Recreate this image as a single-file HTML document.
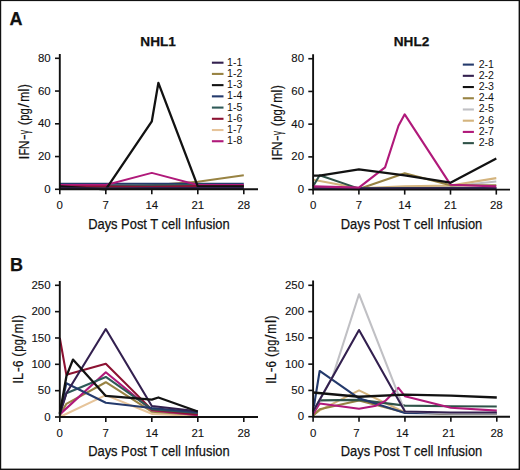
<!DOCTYPE html><html><head><meta charset="utf-8"><style>html,body{margin:0;padding:0;background:#fff;width:520px;height:470px;overflow:hidden}svg{display:block}text{font-family:"Liberation Sans", sans-serif;fill:#111;stroke:#111;stroke-width:0.25px}.tk{font-size:10.4px;stroke-width:0.1px}.lg{font-size:10.2px;stroke-width:0}.ttl{font-size:13.6px;font-weight:bold}.pl{font-size:18px;font-weight:bold}.ax{font-size:15.2px}.yt{font-size:14.2px;stroke-width:0.2px}</style></head><body>
<svg width="520" height="470" viewBox="0 0 520 470">
<rect x="0" y="0" width="520" height="470" fill="#fff"/>
<polyline points="59.80,187.66 105.80,187.66 151.80,186.84 197.80,186.84 243.80,186.84" fill="none" stroke="#e6c49a" stroke-width="2.1" stroke-linejoin="round"/>
<polyline points="59.80,187.66 105.80,187.66 151.80,185.21 197.80,181.77 243.80,175.22" fill="none" stroke="#988343" stroke-width="2.1" stroke-linejoin="round"/>
<polyline points="59.80,183.73 105.80,183.73 151.80,183.73 197.80,183.73 243.80,183.73" fill="none" stroke="#243a6c" stroke-width="2.1" stroke-linejoin="round"/>
<polyline points="59.80,186.68 105.80,185.53 151.80,185.53 197.80,184.72 243.80,185.53" fill="none" stroke="#2f5a58" stroke-width="2.1" stroke-linejoin="round"/>
<polyline points="59.80,185.04 105.80,185.04 151.80,172.93 197.80,185.04 243.80,185.04" fill="none" stroke="#b0197a" stroke-width="1.9" stroke-linejoin="round"/>
<polyline points="59.80,186.52 105.80,186.52 151.80,186.84 197.80,186.03 243.80,186.03" fill="none" stroke="#8c1232" stroke-width="2.1" stroke-linejoin="round"/>
<polyline points="59.80,186.35 105.80,189.30 151.80,121.34 158.37,82.86 197.80,186.35 243.80,186.35" fill="none" stroke="#121212" stroke-width="2.3" stroke-linejoin="round"/>
<polyline points="59.80,188.48 105.80,188.48 151.80,188.32 197.80,188.15 243.80,188.15" fill="none" stroke="#33204f" stroke-width="2.4" stroke-linejoin="round"/>
<path d="M59.80 54.00 V189.30 H258.00" fill="none" stroke="#111" stroke-width="1.9"/>
<line x1="55.00" y1="189.30" x2="59.80" y2="189.30" stroke="#111" stroke-width="1.6"/>
<text x="50.70" y="192.90" text-anchor="end" class="tk" textLength="6.36" lengthAdjust="spacingAndGlyphs">0</text>
<line x1="55.00" y1="156.55" x2="59.80" y2="156.55" stroke="#111" stroke-width="1.6"/>
<text x="50.70" y="160.15" text-anchor="end" class="tk" textLength="12.72" lengthAdjust="spacingAndGlyphs">20</text>
<line x1="55.00" y1="123.80" x2="59.80" y2="123.80" stroke="#111" stroke-width="1.6"/>
<text x="50.70" y="127.40" text-anchor="end" class="tk" textLength="12.72" lengthAdjust="spacingAndGlyphs">40</text>
<line x1="55.00" y1="91.05" x2="59.80" y2="91.05" stroke="#111" stroke-width="1.6"/>
<text x="50.70" y="94.65" text-anchor="end" class="tk" textLength="12.72" lengthAdjust="spacingAndGlyphs">60</text>
<line x1="55.00" y1="58.30" x2="59.80" y2="58.30" stroke="#111" stroke-width="1.6"/>
<text x="50.70" y="61.90" text-anchor="end" class="tk" textLength="12.72" lengthAdjust="spacingAndGlyphs">80</text>
<line x1="59.80" y1="189.30" x2="59.80" y2="194.30" stroke="#111" stroke-width="1.6"/>
<text x="59.80" y="209.10" text-anchor="middle" class="tk" textLength="6.36" lengthAdjust="spacingAndGlyphs">0</text>
<line x1="105.80" y1="189.30" x2="105.80" y2="194.30" stroke="#111" stroke-width="1.6"/>
<text x="105.80" y="209.10" text-anchor="middle" class="tk" textLength="6.36" lengthAdjust="spacingAndGlyphs">7</text>
<line x1="151.80" y1="189.30" x2="151.80" y2="194.30" stroke="#111" stroke-width="1.6"/>
<text x="151.80" y="209.10" text-anchor="middle" class="tk" textLength="12.72" lengthAdjust="spacingAndGlyphs">14</text>
<line x1="197.80" y1="189.30" x2="197.80" y2="194.30" stroke="#111" stroke-width="1.6"/>
<text x="197.80" y="209.10" text-anchor="middle" class="tk" textLength="12.72" lengthAdjust="spacingAndGlyphs">21</text>
<line x1="243.80" y1="189.30" x2="243.80" y2="194.30" stroke="#111" stroke-width="1.6"/>
<text x="243.80" y="209.10" text-anchor="middle" class="tk" textLength="12.72" lengthAdjust="spacingAndGlyphs">28</text>
<polyline points="313.10,187.96 358.90,187.96 404.70,187.96 450.50,186.33 496.30,181.42" fill="none" stroke="#c0c0c4" stroke-width="2.1" stroke-linejoin="round"/>
<polyline points="313.10,179.78 358.90,188.29 404.70,186.33 450.50,185.51 496.30,178.15" fill="none" stroke="#d4b47e" stroke-width="2.1" stroke-linejoin="round"/>
<polyline points="313.10,187.96 358.90,189.11 404.70,173.24 450.50,185.35 496.30,185.18" fill="none" stroke="#988343" stroke-width="2.1" stroke-linejoin="round"/>
<polyline points="313.10,186.33 319.64,175.20 358.90,188.62 404.70,187.96 450.50,187.96 496.30,187.96" fill="none" stroke="#2f5248" stroke-width="2.1" stroke-linejoin="round"/>
<polyline points="313.10,188.62 358.90,188.62 404.70,188.62 450.50,188.62 496.30,188.62" fill="none" stroke="#243a6c" stroke-width="2.1" stroke-linejoin="round"/>
<polyline points="313.10,188.78 358.90,188.78 404.70,188.78 450.50,188.62 496.30,188.62" fill="none" stroke="#33204f" stroke-width="2.6" stroke-linejoin="round"/>
<polyline points="313.10,186.33 358.90,187.64 385.07,167.35 398.49,125.80 404.70,114.34 450.50,184.69 496.30,186.33" fill="none" stroke="#b0197a" stroke-width="2.1" stroke-linejoin="round"/>
<polyline points="313.10,175.69 319.64,175.69 358.90,169.31 404.70,175.37 450.50,182.73 496.30,158.52" fill="none" stroke="#121212" stroke-width="2.3" stroke-linejoin="round"/>
<path d="M313.10 54.30 V189.60 H510.00" fill="none" stroke="#111" stroke-width="1.9"/>
<line x1="308.30" y1="189.60" x2="313.10" y2="189.60" stroke="#111" stroke-width="1.6"/>
<text x="304.10" y="193.20" text-anchor="end" class="tk" textLength="6.36" lengthAdjust="spacingAndGlyphs">0</text>
<line x1="308.30" y1="156.88" x2="313.10" y2="156.88" stroke="#111" stroke-width="1.6"/>
<text x="304.10" y="160.48" text-anchor="end" class="tk" textLength="12.72" lengthAdjust="spacingAndGlyphs">20</text>
<line x1="308.30" y1="124.16" x2="313.10" y2="124.16" stroke="#111" stroke-width="1.6"/>
<text x="304.10" y="127.76" text-anchor="end" class="tk" textLength="12.72" lengthAdjust="spacingAndGlyphs">40</text>
<line x1="308.30" y1="91.44" x2="313.10" y2="91.44" stroke="#111" stroke-width="1.6"/>
<text x="304.10" y="95.04" text-anchor="end" class="tk" textLength="12.72" lengthAdjust="spacingAndGlyphs">60</text>
<line x1="308.30" y1="58.72" x2="313.10" y2="58.72" stroke="#111" stroke-width="1.6"/>
<text x="304.10" y="62.32" text-anchor="end" class="tk" textLength="12.72" lengthAdjust="spacingAndGlyphs">80</text>
<line x1="313.10" y1="189.60" x2="313.10" y2="194.60" stroke="#111" stroke-width="1.6"/>
<text x="313.10" y="209.40" text-anchor="middle" class="tk" textLength="6.36" lengthAdjust="spacingAndGlyphs">0</text>
<line x1="358.90" y1="189.60" x2="358.90" y2="194.60" stroke="#111" stroke-width="1.6"/>
<text x="358.90" y="209.40" text-anchor="middle" class="tk" textLength="6.36" lengthAdjust="spacingAndGlyphs">7</text>
<line x1="404.70" y1="189.60" x2="404.70" y2="194.60" stroke="#111" stroke-width="1.6"/>
<text x="404.70" y="209.40" text-anchor="middle" class="tk" textLength="12.72" lengthAdjust="spacingAndGlyphs">14</text>
<line x1="450.50" y1="189.60" x2="450.50" y2="194.60" stroke="#111" stroke-width="1.6"/>
<text x="450.50" y="209.40" text-anchor="middle" class="tk" textLength="12.72" lengthAdjust="spacingAndGlyphs">21</text>
<line x1="496.30" y1="189.60" x2="496.30" y2="194.60" stroke="#111" stroke-width="1.6"/>
<text x="496.30" y="209.40" text-anchor="middle" class="tk" textLength="12.72" lengthAdjust="spacingAndGlyphs">28</text>
<polyline points="59.80,417.00 105.80,395.14 151.80,413.84 197.80,415.95" fill="none" stroke="#e6c49a" stroke-width="2.1" stroke-linejoin="round"/>
<polyline points="59.80,415.42 66.37,403.83 105.80,382.23 151.80,411.73 197.80,414.89" fill="none" stroke="#988343" stroke-width="2.1" stroke-linejoin="round"/>
<polyline points="59.80,414.37 105.80,372.22 151.80,410.15 197.80,415.16" fill="none" stroke="#b0197a" stroke-width="2.1" stroke-linejoin="round"/>
<polyline points="59.80,337.98 66.37,374.86 105.80,363.79 151.80,409.62 197.80,414.37" fill="none" stroke="#8c1232" stroke-width="2.1" stroke-linejoin="round"/>
<polyline points="59.80,412.79 66.37,393.29 105.80,376.96 151.80,409.10 197.80,413.05" fill="none" stroke="#2f5a58" stroke-width="2.1" stroke-linejoin="round"/>
<polyline points="59.80,412.79 66.37,383.28 105.80,402.78 151.80,408.04 197.80,412.26" fill="none" stroke="#243a6c" stroke-width="2.1" stroke-linejoin="round"/>
<polyline points="59.80,414.37 66.37,393.29 105.80,329.02 151.80,405.94 197.80,411.21" fill="none" stroke="#33204f" stroke-width="2.1" stroke-linejoin="round"/>
<polyline points="59.80,413.84 66.37,376.44 72.94,359.58 105.80,395.93 151.80,399.62 158.37,397.51 197.80,411.47" fill="none" stroke="#121212" stroke-width="2.3" stroke-linejoin="round"/>
<path d="M59.80 280.90 V417.00 H258.00" fill="none" stroke="#111" stroke-width="1.9"/>
<line x1="55.00" y1="417.00" x2="59.80" y2="417.00" stroke="#111" stroke-width="1.6"/>
<text x="50.60" y="420.60" text-anchor="end" class="tk" textLength="6.36" lengthAdjust="spacingAndGlyphs">0</text>
<line x1="55.00" y1="390.66" x2="59.80" y2="390.66" stroke="#111" stroke-width="1.6"/>
<text x="50.60" y="394.26" text-anchor="end" class="tk" textLength="12.72" lengthAdjust="spacingAndGlyphs">50</text>
<line x1="55.00" y1="364.32" x2="59.80" y2="364.32" stroke="#111" stroke-width="1.6"/>
<text x="50.60" y="367.92" text-anchor="end" class="tk" textLength="19.08" lengthAdjust="spacingAndGlyphs">100</text>
<line x1="55.00" y1="337.98" x2="59.80" y2="337.98" stroke="#111" stroke-width="1.6"/>
<text x="50.60" y="341.58" text-anchor="end" class="tk" textLength="19.08" lengthAdjust="spacingAndGlyphs">150</text>
<line x1="55.00" y1="311.64" x2="59.80" y2="311.64" stroke="#111" stroke-width="1.6"/>
<text x="50.60" y="315.24" text-anchor="end" class="tk" textLength="19.08" lengthAdjust="spacingAndGlyphs">200</text>
<line x1="55.00" y1="285.30" x2="59.80" y2="285.30" stroke="#111" stroke-width="1.6"/>
<text x="50.60" y="288.90" text-anchor="end" class="tk" textLength="19.08" lengthAdjust="spacingAndGlyphs">250</text>
<line x1="59.80" y1="417.00" x2="59.80" y2="422.00" stroke="#111" stroke-width="1.6"/>
<text x="59.80" y="436.80" text-anchor="middle" class="tk" textLength="6.36" lengthAdjust="spacingAndGlyphs">0</text>
<line x1="105.80" y1="417.00" x2="105.80" y2="422.00" stroke="#111" stroke-width="1.6"/>
<text x="105.80" y="436.80" text-anchor="middle" class="tk" textLength="6.36" lengthAdjust="spacingAndGlyphs">7</text>
<line x1="151.80" y1="417.00" x2="151.80" y2="422.00" stroke="#111" stroke-width="1.6"/>
<text x="151.80" y="436.80" text-anchor="middle" class="tk" textLength="12.72" lengthAdjust="spacingAndGlyphs">14</text>
<line x1="197.80" y1="417.00" x2="197.80" y2="422.00" stroke="#111" stroke-width="1.6"/>
<text x="197.80" y="436.80" text-anchor="middle" class="tk" textLength="12.72" lengthAdjust="spacingAndGlyphs">21</text>
<line x1="243.80" y1="417.00" x2="243.80" y2="422.00" stroke="#111" stroke-width="1.6"/>
<text x="243.80" y="436.80" text-anchor="middle" class="tk" textLength="12.72" lengthAdjust="spacingAndGlyphs">28</text>
<polyline points="313.10,415.12 319.66,410.39 359.02,390.42 404.94,412.50 450.86,414.07 496.78,414.07" fill="none" stroke="#d4b47e" stroke-width="2.1" stroke-linejoin="round"/>
<polyline points="313.10,415.65 319.66,409.34 359.02,400.41 404.94,412.50 450.86,413.55 496.78,413.55" fill="none" stroke="#988343" stroke-width="2.1" stroke-linejoin="round"/>
<polyline points="313.10,412.50 319.66,400.41 359.02,399.88 404.94,405.66 450.86,406.19 496.78,406.45" fill="none" stroke="#2f5248" stroke-width="2.1" stroke-linejoin="round"/>
<polyline points="313.10,411.44 319.66,370.97 359.02,398.30 404.94,413.02 450.86,413.55 496.78,413.55" fill="none" stroke="#243a6c" stroke-width="2.1" stroke-linejoin="round"/>
<polyline points="313.10,414.07 319.66,403.56 359.02,408.82 376.08,405.66 385.26,400.93 398.38,387.79 404.94,396.20 450.86,407.76 496.78,410.66" fill="none" stroke="#b0197a" stroke-width="2.1" stroke-linejoin="round"/>
<polyline points="313.10,411.44 332.78,376.23 359.02,294.24 404.94,411.44 450.86,413.55 496.78,413.55" fill="none" stroke="#c0c0c4" stroke-width="2.1" stroke-linejoin="round"/>
<polyline points="313.10,411.44 359.02,329.98 404.94,411.44 450.86,412.50 496.78,412.50" fill="none" stroke="#33204f" stroke-width="2.1" stroke-linejoin="round"/>
<polyline points="313.10,392.52 359.02,396.73 404.94,394.62 450.86,395.68 496.78,397.52" fill="none" stroke="#121212" stroke-width="2.3" stroke-linejoin="round"/>
<path d="M313.10 280.50 V416.70 H510.00" fill="none" stroke="#111" stroke-width="1.9"/>
<line x1="308.30" y1="416.70" x2="313.10" y2="416.70" stroke="#111" stroke-width="1.6"/>
<text x="304.10" y="420.30" text-anchor="end" class="tk" textLength="6.36" lengthAdjust="spacingAndGlyphs">0</text>
<line x1="308.30" y1="390.42" x2="313.10" y2="390.42" stroke="#111" stroke-width="1.6"/>
<text x="304.10" y="394.02" text-anchor="end" class="tk" textLength="12.72" lengthAdjust="spacingAndGlyphs">50</text>
<line x1="308.30" y1="364.14" x2="313.10" y2="364.14" stroke="#111" stroke-width="1.6"/>
<text x="304.10" y="367.74" text-anchor="end" class="tk" textLength="19.08" lengthAdjust="spacingAndGlyphs">100</text>
<line x1="308.30" y1="337.86" x2="313.10" y2="337.86" stroke="#111" stroke-width="1.6"/>
<text x="304.10" y="341.46" text-anchor="end" class="tk" textLength="19.08" lengthAdjust="spacingAndGlyphs">150</text>
<line x1="308.30" y1="311.58" x2="313.10" y2="311.58" stroke="#111" stroke-width="1.6"/>
<text x="304.10" y="315.18" text-anchor="end" class="tk" textLength="19.08" lengthAdjust="spacingAndGlyphs">200</text>
<line x1="308.30" y1="285.30" x2="313.10" y2="285.30" stroke="#111" stroke-width="1.6"/>
<text x="304.10" y="288.90" text-anchor="end" class="tk" textLength="19.08" lengthAdjust="spacingAndGlyphs">250</text>
<line x1="313.10" y1="416.70" x2="313.10" y2="421.70" stroke="#111" stroke-width="1.6"/>
<text x="313.10" y="436.50" text-anchor="middle" class="tk" textLength="6.36" lengthAdjust="spacingAndGlyphs">0</text>
<line x1="359.02" y1="416.70" x2="359.02" y2="421.70" stroke="#111" stroke-width="1.6"/>
<text x="356.42" y="436.50" text-anchor="middle" class="tk" textLength="6.36" lengthAdjust="spacingAndGlyphs">7</text>
<line x1="404.94" y1="416.70" x2="404.94" y2="421.70" stroke="#111" stroke-width="1.6"/>
<text x="402.34" y="436.50" text-anchor="middle" class="tk" textLength="12.72" lengthAdjust="spacingAndGlyphs">14</text>
<line x1="450.86" y1="416.70" x2="450.86" y2="421.70" stroke="#111" stroke-width="1.6"/>
<text x="448.66" y="436.50" text-anchor="middle" class="tk" textLength="12.72" lengthAdjust="spacingAndGlyphs">21</text>
<line x1="496.78" y1="416.70" x2="496.78" y2="421.70" stroke="#111" stroke-width="1.6"/>
<text x="496.78" y="436.50" text-anchor="middle" class="tk" textLength="12.72" lengthAdjust="spacingAndGlyphs">28</text>
<text x="158.90" y="228.80" text-anchor="middle" class="ax" textLength="141.5" lengthAdjust="spacingAndGlyphs">Days Post T cell Infusion</text>
<text x="411.50" y="228.80" text-anchor="middle" class="ax" textLength="141.5" lengthAdjust="spacingAndGlyphs">Days Post T cell Infusion</text>
<text x="158.90" y="456.30" text-anchor="middle" class="ax" textLength="141.5" lengthAdjust="spacingAndGlyphs">Days Post T cell Infusion</text>
<text x="411.50" y="456.30" text-anchor="middle" class="ax" textLength="141.5" lengthAdjust="spacingAndGlyphs">Days Post T cell Infusion</text>
<text class="yt" transform="translate(28.50 0) rotate(-90) translate(-159.42 0) scale(1.000 1)">I</text>
<text class="yt" transform="translate(28.50 0) rotate(-90) translate(-155.32 0) scale(0.749 1)">F</text>
<text class="yt" transform="translate(28.50 0) rotate(-90) translate(-149.33 0) scale(0.845 1)">N</text>
<text class="yt" transform="translate(28.50 0) rotate(-90) translate(-140.11 0) scale(1.211 1)">-</text>
<text class="yt" transform="translate(28.50 0) rotate(-90) translate(-134.28 0) scale(0.600 1)">γ</text>
<text class="yt" transform="translate(28.50 0) rotate(-90) translate(-125.27 0) scale(0.930 1)">(</text>
<text class="yt" transform="translate(28.50 0) rotate(-90) translate(-120.87 0) scale(0.783 1)">p</text>
<text class="yt" transform="translate(28.50 0) rotate(-90) translate(-114.42 0) scale(0.783 1)">g</text>
<text class="yt" transform="translate(28.50 0) rotate(-90) translate(-107.41 0) scale(1.120 1)">/</text>
<text class="yt" transform="translate(28.50 0) rotate(-90) translate(-101.85 0) scale(0.844 1)">m</text>
<text class="yt" transform="translate(28.50 0) rotate(-90) translate(-91.73 0) scale(1.000 1)">l</text>
<text class="yt" transform="translate(28.50 0) rotate(-90) translate(-88.12 0) scale(0.797 1)">)</text>
<text class="yt" transform="translate(281.90 0) rotate(-90) translate(-160.42 0) scale(1.000 1)">I</text>
<text class="yt" transform="translate(281.90 0) rotate(-90) translate(-156.32 0) scale(0.749 1)">F</text>
<text class="yt" transform="translate(281.90 0) rotate(-90) translate(-150.33 0) scale(0.845 1)">N</text>
<text class="yt" transform="translate(281.90 0) rotate(-90) translate(-141.11 0) scale(1.211 1)">-</text>
<text class="yt" transform="translate(281.90 0) rotate(-90) translate(-135.28 0) scale(0.600 1)">γ</text>
<text class="yt" transform="translate(281.90 0) rotate(-90) translate(-126.27 0) scale(0.930 1)">(</text>
<text class="yt" transform="translate(281.90 0) rotate(-90) translate(-121.87 0) scale(0.783 1)">p</text>
<text class="yt" transform="translate(281.90 0) rotate(-90) translate(-115.42 0) scale(0.783 1)">g</text>
<text class="yt" transform="translate(281.90 0) rotate(-90) translate(-108.41 0) scale(1.120 1)">/</text>
<text class="yt" transform="translate(281.90 0) rotate(-90) translate(-102.85 0) scale(0.844 1)">m</text>
<text class="yt" transform="translate(281.90 0) rotate(-90) translate(-92.73 0) scale(1.000 1)">l</text>
<text class="yt" transform="translate(281.90 0) rotate(-90) translate(-89.12 0) scale(0.797 1)">)</text>
<text class="yt" transform="translate(22.50 0) rotate(-90) translate(-383.72 0) scale(1.000 1)">I</text>
<text class="yt" transform="translate(22.50 0) rotate(-90) translate(-379.91 0) scale(0.910 1)">L</text>
<text class="yt" transform="translate(22.50 0) rotate(-90) translate(-371.96 0) scale(1.000 1)">-</text>
<text class="yt" transform="translate(22.50 0) rotate(-90) translate(-367.03 0) scale(0.809 1)">6</text>
<text class="yt" transform="translate(22.50 0) rotate(-90) translate(-356.67 0) scale(0.930 1)">(</text>
<text class="yt" transform="translate(22.50 0) rotate(-90) translate(-351.87 0) scale(0.783 1)">p</text>
<text class="yt" transform="translate(22.50 0) rotate(-90) translate(-345.31 0) scale(0.767 1)">g</text>
<text class="yt" transform="translate(22.50 0) rotate(-90) translate(-338.66 0) scale(1.120 1)">/</text>
<text class="yt" transform="translate(22.50 0) rotate(-90) translate(-333.24 0) scale(0.834 1)">m</text>
<text class="yt" transform="translate(22.50 0) rotate(-90) translate(-322.68 0) scale(1.000 1)">l</text>
<text class="yt" transform="translate(22.50 0) rotate(-90) translate(-319.12 0) scale(0.823 1)">)</text>
<text class="yt" transform="translate(275.60 0) rotate(-90) translate(-384.12 0) scale(1.000 1)">I</text>
<text class="yt" transform="translate(275.60 0) rotate(-90) translate(-380.31 0) scale(0.910 1)">L</text>
<text class="yt" transform="translate(275.60 0) rotate(-90) translate(-372.36 0) scale(1.000 1)">-</text>
<text class="yt" transform="translate(275.60 0) rotate(-90) translate(-367.43 0) scale(0.809 1)">6</text>
<text class="yt" transform="translate(275.60 0) rotate(-90) translate(-357.07 0) scale(0.930 1)">(</text>
<text class="yt" transform="translate(275.60 0) rotate(-90) translate(-352.27 0) scale(0.783 1)">p</text>
<text class="yt" transform="translate(275.60 0) rotate(-90) translate(-345.71 0) scale(0.767 1)">g</text>
<text class="yt" transform="translate(275.60 0) rotate(-90) translate(-339.06 0) scale(1.120 1)">/</text>
<text class="yt" transform="translate(275.60 0) rotate(-90) translate(-333.64 0) scale(0.834 1)">m</text>
<text class="yt" transform="translate(275.60 0) rotate(-90) translate(-323.08 0) scale(1.000 1)">l</text>
<text class="yt" transform="translate(275.60 0) rotate(-90) translate(-319.52 0) scale(0.823 1)">)</text>
<text x="158.1" y="45.8" text-anchor="middle" class="ttl">NHL1</text>
<text x="411.5" y="45.8" text-anchor="middle" class="ttl">NHL2</text>
<text x="9.6" y="25" class="pl">A</text>
<text x="9.9" y="270.8" class="pl">B</text>
<line x1="211.90" y1="62.70" x2="223.50" y2="62.70" stroke="#33204f" stroke-width="2.1"/>
<text x="227.00" y="65.70" class="lg" textLength="15.3" lengthAdjust="spacingAndGlyphs">1-1</text>
<line x1="211.90" y1="73.92" x2="223.50" y2="73.92" stroke="#988343" stroke-width="2.1"/>
<text x="227.00" y="76.92" class="lg" textLength="15.3" lengthAdjust="spacingAndGlyphs">1-2</text>
<line x1="211.90" y1="85.14" x2="223.50" y2="85.14" stroke="#121212" stroke-width="2.1"/>
<text x="227.00" y="88.14" class="lg" textLength="15.3" lengthAdjust="spacingAndGlyphs">1-3</text>
<line x1="211.90" y1="96.36" x2="223.50" y2="96.36" stroke="#243a6c" stroke-width="2.1"/>
<text x="227.00" y="99.36" class="lg" textLength="15.3" lengthAdjust="spacingAndGlyphs">1-4</text>
<line x1="211.90" y1="107.58" x2="223.50" y2="107.58" stroke="#2f5a58" stroke-width="2.1"/>
<text x="227.00" y="110.58" class="lg" textLength="15.3" lengthAdjust="spacingAndGlyphs">1-5</text>
<line x1="211.90" y1="118.80" x2="223.50" y2="118.80" stroke="#8c1232" stroke-width="2.1"/>
<text x="227.00" y="121.80" class="lg" textLength="15.3" lengthAdjust="spacingAndGlyphs">1-6</text>
<line x1="211.90" y1="130.02" x2="223.50" y2="130.02" stroke="#e6c49a" stroke-width="2.1"/>
<text x="227.00" y="133.02" class="lg" textLength="15.3" lengthAdjust="spacingAndGlyphs">1-7</text>
<line x1="211.90" y1="141.24" x2="223.50" y2="141.24" stroke="#b0197a" stroke-width="2.1"/>
<text x="227.00" y="144.24" class="lg" textLength="15.3" lengthAdjust="spacingAndGlyphs">1-8</text>
<line x1="462.80" y1="64.60" x2="473.90" y2="64.60" stroke="#243a6c" stroke-width="2.1"/>
<text x="478.70" y="67.60" class="lg" textLength="15.3" lengthAdjust="spacingAndGlyphs">2-1</text>
<line x1="462.80" y1="75.82" x2="473.90" y2="75.82" stroke="#33204f" stroke-width="2.1"/>
<text x="478.70" y="78.82" class="lg" textLength="15.3" lengthAdjust="spacingAndGlyphs">2-2</text>
<line x1="462.80" y1="87.04" x2="473.90" y2="87.04" stroke="#121212" stroke-width="2.1"/>
<text x="478.70" y="90.04" class="lg" textLength="15.3" lengthAdjust="spacingAndGlyphs">2-3</text>
<line x1="462.80" y1="98.26" x2="473.90" y2="98.26" stroke="#988343" stroke-width="2.1"/>
<text x="478.70" y="101.26" class="lg" textLength="15.3" lengthAdjust="spacingAndGlyphs">2-4</text>
<line x1="462.80" y1="109.48" x2="473.90" y2="109.48" stroke="#c0c0c4" stroke-width="2.1"/>
<text x="478.70" y="112.48" class="lg" textLength="15.3" lengthAdjust="spacingAndGlyphs">2-5</text>
<line x1="462.80" y1="120.70" x2="473.90" y2="120.70" stroke="#d4b47e" stroke-width="2.1"/>
<text x="478.70" y="123.70" class="lg" textLength="15.3" lengthAdjust="spacingAndGlyphs">2-6</text>
<line x1="462.80" y1="131.92" x2="473.90" y2="131.92" stroke="#b0197a" stroke-width="2.1"/>
<text x="478.70" y="134.92" class="lg" textLength="15.3" lengthAdjust="spacingAndGlyphs">2-7</text>
<line x1="462.80" y1="143.14" x2="473.90" y2="143.14" stroke="#2f5248" stroke-width="2.1"/>
<text x="478.70" y="146.14" class="lg" textLength="15.3" lengthAdjust="spacingAndGlyphs">2-8</text>
<rect x="0" y="0" width="520" height="1.1" fill="#111"/><rect x="0" y="0" width="1.2" height="470" fill="#111"/><rect x="518.6" y="0" width="1.4" height="470" fill="#111"/><rect x="0" y="468.6" width="520" height="1.4" fill="#111"/>
</svg></body></html>
